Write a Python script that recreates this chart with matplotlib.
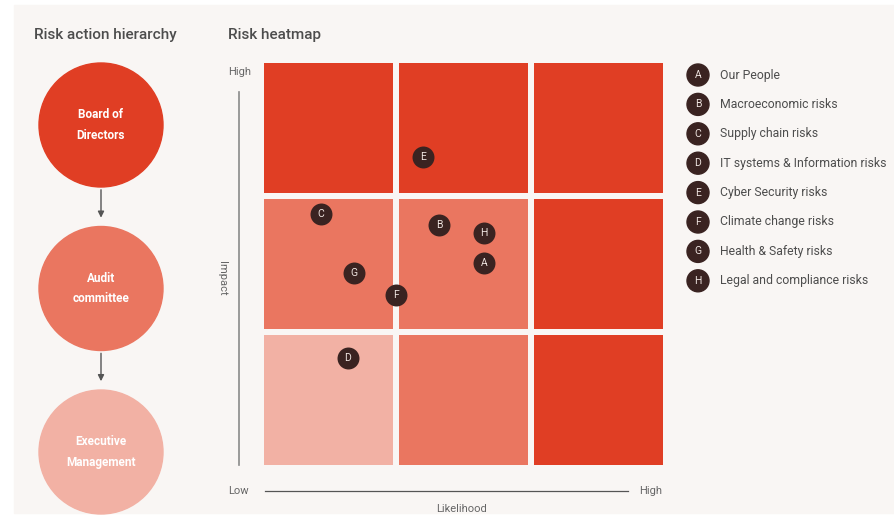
import matplotlib
matplotlib.use("Agg")
import matplotlib.pyplot as plt
from matplotlib.patches import Circle, Rectangle

plt.rcParams['font.family'] = ['Roboto', 'DejaVu Sans']

# data
tiers = ['Board of\nDirectors', 'Audit\ncommittee', 'Executive\nManagement']
tier_level = [3, 2, 1]
# impact rows listed low -> high, likelihood columns low -> high
grid = [[1, 2, 3],
        [2, 2, 3],
        [3, 3, 3]]
risk_ids = ['A', 'B', 'C', 'D', 'E', 'F', 'G', 'H']
risk_names = ['Our People', 'Macroeconomic risks', 'Supply chain risks',
              'IT systems & Information risks', 'Cyber Security risks',
              'Climate change risks', 'Health & Safety risks',
              'Legal and compliance risks']
likelihood = [1.63, 1.30, 0.42, 0.62, 1.18, 0.98, 0.67, 1.63]
impact = [1.49, 1.77, 1.85, 0.79, 2.27, 1.25, 1.41, 1.71]

colors = {1: '#f2b1a4', 2: '#ea7660', 3: '#e03e24'}
dark = '#3a2321'
txt = '#4d4d4d'
bg = '#f9f6f4'

W, H = 895, 519
fig = plt.figure(figsize=(W / 100, H / 100), dpi=100)
fig.patch.set_facecolor('white')

# overlay in pixel coords
ov = fig.add_axes([0, 0, 1, 1])
ov.set_xlim(0, W)
ov.set_ylim(H, 0)
ov.axis('off')
ov.add_patch(Rectangle((14, 5), W - 14, 508, color=bg, zorder=0))

ov.text(34, 35, 'Risk action hierarchy', fontsize=11, color=txt,
        fontweight='medium', va='center', ha='left')
ov.text(228, 35, 'Risk heatmap', fontsize=11, color=txt,
        fontweight='medium', va='center', ha='left')

# hierarchy
cx, r = 101, 62
for i, (name, lvl) in enumerate(zip(tiers, tier_level)):
    cy = 125 + i * 163.5
    ov.add_patch(Circle((cx, cy), r, color=colors[lvl], zorder=2))
    ov.text(cx, cy, name, ha='center', va='center', color='white',
            fontsize=8.5, fontweight='bold', linespacing=1.8, zorder=3)
    if i < len(tiers) - 1:
        ov.annotate('', xy=(cx, cy + 163.5 - r - 6), xytext=(cx, cy + r),
                    arrowprops=dict(arrowstyle='-|>', color='#555555',
                                    lw=1, mutation_scale=9))

# axis decorations
ov.plot([239, 239], [92, 465], color='#8a8a8a', lw=1.2)
ov.plot([265, 628], [491, 491], color='#555555', lw=0.9)
ov.text(240, 72, 'High', ha='center', va='center', fontsize=8, color='#666666')
ov.text(238, 491, 'Low', ha='center', va='center', fontsize=8, color='#666666')
ov.text(651, 491, 'High', ha='center', va='center', fontsize=8, color='#666666')
ov.text(222, 278, 'Impact', ha='center', va='center', fontsize=8,
        color='#666666', rotation=-90)
ov.text(462, 509, 'Likelihood', ha='center', va='center', fontsize=8,
        color='#666666')

# legend
for i, (k, name) in enumerate(zip(risk_ids, risk_names)):
    ly = 75 + i * 29.4
    ov.add_patch(Circle((698, ly), 11, color=dark, zorder=2))
    ov.text(698, ly, k, ha='center', va='center', color='#eee4e0',
            fontsize=7.5, zorder=3)
    ov.text(720, ly, name, ha='left', va='center', color=txt, fontsize=8.8)

# heatmap
cw = 0.959
ax = fig.add_axes([264 / W, (H - 465) / H, 399 / W, 402 / H])
ax.set_xlim(0, 2 + cw)
ax.set_ylim(0, 2 + cw)
ax.axis('off')
for row, vals in enumerate(grid):
    for col, lvl in enumerate(vals):
        ax.add_patch(Rectangle((col, row), cw, cw, color=colors[lvl], lw=0))

ax.scatter(likelihood, impact, s=250, color=dark, zorder=3, lw=0)
for k, x, y in zip(risk_ids, likelihood, impact):
    ax.text(x, y, k, ha='center', va='center', color='#eee4e0',
            fontsize=7.5, zorder=4)

fig.savefig('out.png', dpi=100, facecolor=fig.get_facecolor())
